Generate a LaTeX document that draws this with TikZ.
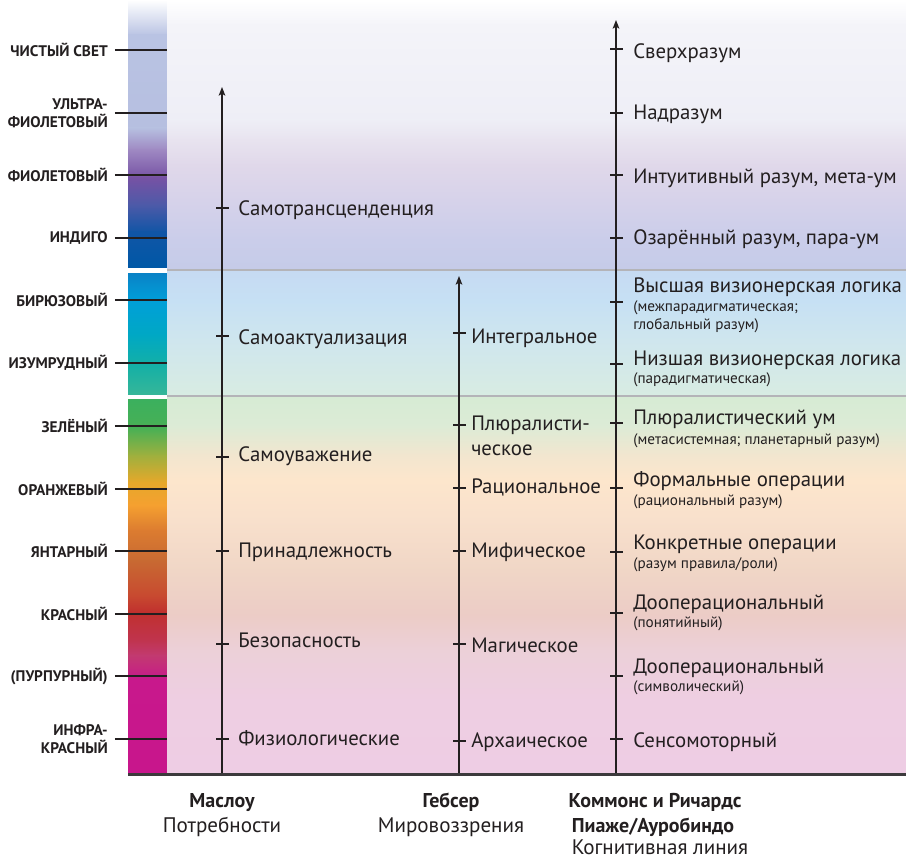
\documentclass[tikz,border=0pt]{standalone}
\usepackage{fontspec}
\setmainfont{PT Sans}
\usetikzlibrary{arrows.meta}
\definecolor{ink}{HTML}{231F20}
\definecolor{sepgray}{HTML}{B4B4B8}
\definecolor{baseln}{HTML}{3C3A3C}
% bar colours
\definecolor{ba1}{HTML}{B9C3E3}
\definecolor{ba2}{HTML}{B6BFE0}
\definecolor{ba3}{HTML}{9E88C2}
\definecolor{ba4}{HTML}{7652A4}
\definecolor{ba5}{HTML}{4C5AA8}
\definecolor{ba6}{HTML}{1055A6}
\definecolor{ba7}{HTML}{0058A6}
\definecolor{bb1}{HTML}{0A82C6}
\definecolor{bb2}{HTML}{009FD9}
\definecolor{bb3}{HTML}{00A8C4}
\definecolor{bb4}{HTML}{14B0A6}
\definecolor{bb5}{HTML}{35B699}
\definecolor{bc1}{HTML}{3BB05E}
\definecolor{bc2}{HTML}{48B055}
\definecolor{bc3}{HTML}{9EB03E}
\definecolor{bc4}{HTML}{E6A82A}
\definecolor{bc5}{HTML}{F5A030}
\definecolor{bc6}{HTML}{DC7C30}
\definecolor{bc7}{HTML}{C86A32}
\definecolor{bc8}{HTML}{C84A30}
\definecolor{bc9}{HTML}{C0302E}
\definecolor{bc10}{HTML}{C0344E}
\definecolor{bc11}{HTML}{C23A70}
\definecolor{bc12}{HTML}{C8188C}
\definecolor{bc13}{HTML}{C8168C}
% panel colours
\definecolor{pa1}{HTML}{F4F4F9}
\definecolor{pa2}{HTML}{EEEEF6}
\definecolor{pa3}{HTML}{E8E3EF}
\definecolor{pa4}{HTML}{E0D8EA}
\definecolor{pa5}{HTML}{D6D2EA}
\definecolor{pa6}{HTML}{CACDEA}
\definecolor{pa7}{HTML}{C5CBE8}
\definecolor{pb1}{HTML}{C6DAF2}
\definecolor{pb2}{HTML}{C6E0F4}
\definecolor{pb3}{HTML}{CFE6EE}
\definecolor{pb4}{HTML}{D8ECE2}
\definecolor{pc1}{HTML}{D6EBD4}
\definecolor{pc2}{HTML}{DCEBD6}
\definecolor{pc3}{HTML}{F2E6CF}
\definecolor{pc4}{HTML}{FDE6CC}
\definecolor{pc5}{HTML}{F8E0CC}
\definecolor{pc6}{HTML}{F0D6C6}
\definecolor{pc7}{HTML}{ECCCC6}
\definecolor{pc8}{HTML}{ECD0D8}
\definecolor{pc9}{HTML}{EECEE2}
\definecolor{pc10}{HTML}{EECDE4}
\newcommand\bandseg[6]{\shade[top color=#5,bottom color=#6] (#1,#3) rectangle (#2,#4+0.6);}
\begin{document}
\begin{tikzpicture}[x=0.75pt,y=-0.75pt,
  mainlab/.style={anchor=mid west,inner sep=0pt,yshift=-1.5pt,font=\fontsize{15.6}{17}\selectfont,text=ink},
  sublab/.style={anchor=mid west,inner sep=0pt,yshift=-1pt,font=\fontsize{11.4}{13}\selectfont,text=ink,align=left},
  bandlab/.style={anchor=east,inner sep=0pt,font=\bfseries\fontsize{11.5}{13.5}\selectfont,text=ink,align=right},
  headb/.style={anchor=mid,inner sep=0pt,yshift=-1.5pt,font=\bfseries\fontsize{15}{17}\selectfont,text=ink},
  headn/.style={anchor=mid,inner sep=0pt,yshift=-1.5pt,font=\fontsize{15.8}{17}\selectfont,text=ink},
  axisline/.style={draw=ink,line width=1pt,-{Stealth[length=6.5pt,width=5pt,inset=1.5pt]}},
  tk/.style={draw=ink,line width=0.9pt},
  bandtk/.style={draw=ink,line width=1.1pt}]
\useasboundingbox (0,0) rectangle (906,859);
\fill[white] (0,0) rectangle (906,859);
% ---- colour bar ----
\bandseg{128}{167.5}{0}{35}{white}{ba1}
\bandseg{128}{167.5}{35}{128}{ba1}{ba2}
\bandseg{128}{167.5}{128}{150}{ba2}{ba3}
\bandseg{128}{167.5}{150}{178}{ba3}{ba4}
\bandseg{128}{167.5}{178}{205}{ba4}{ba5}
\bandseg{128}{167.5}{205}{232}{ba5}{ba6}
\shade[top color=ba6,bottom color=ba7] (128,232) rectangle (167.5,268);
\bandseg{128}{167.5}{273}{300}{bb1}{bb2}
\bandseg{128}{167.5}{300}{335}{bb2}{bb3}
\bandseg{128}{167.5}{335}{365}{bb3}{bb4}
\shade[top color=bb4,bottom color=bb5] (128,365) rectangle (167.5,394);
\bandseg{128}{167.5}{399}{428}{bc1}{bc2}
\bandseg{128}{167.5}{428}{455}{bc2}{bc3}
\bandseg{128}{167.5}{455}{482}{bc3}{bc4}
\bandseg{128}{167.5}{482}{505}{bc4}{bc5}
\bandseg{128}{167.5}{505}{530}{bc5}{bc6}
\bandseg{128}{167.5}{530}{560}{bc6}{bc7}
\bandseg{128}{167.5}{560}{595}{bc7}{bc8}
\bandseg{128}{167.5}{595}{612}{bc8}{bc9}
\bandseg{128}{167.5}{612}{640}{bc9}{bc10}
\bandseg{128}{167.5}{640}{655}{bc10}{bc11}
\bandseg{128}{167.5}{655}{680}{bc11}{bc12}
\shade[top color=bc12,bottom color=bc13] (128,680) rectangle (167.5,773);
% ---- background panel ----
\bandseg{167}{906}{0}{25}{white}{pa1}
\bandseg{167}{906}{25}{120}{pa1}{pa2}
\bandseg{167}{906}{120}{140}{pa2}{pa3}
\bandseg{167}{906}{140}{165}{pa3}{pa4}
\bandseg{167}{906}{165}{200}{pa4}{pa5}
\bandseg{167}{906}{200}{240}{pa5}{pa6}
\bandseg{167}{906}{240}{270}{pa6}{pa7}
\bandseg{167}{906}{270}{300}{pb1}{pb2}
\bandseg{167}{906}{300}{340}{pb2}{pb3}
\bandseg{167}{906}{340}{396}{pb3}{pb4}
\bandseg{167}{906}{396}{425}{pc1}{pc2}
\bandseg{167}{906}{425}{455}{pc2}{pc3}
\bandseg{167}{906}{455}{480}{pc3}{pc4}
\bandseg{167}{906}{480}{520}{pc4}{pc5}
\bandseg{167}{906}{520}{570}{pc5}{pc6}
\bandseg{167}{906}{570}{615}{pc6}{pc7}
\bandseg{167}{906}{615}{650}{pc7}{pc8}
\bandseg{167}{906}{650}{700}{pc8}{pc9}
\shade[top color=pc9,bottom color=pc10] (167,700) rectangle (906,773);
% separators and base line
\coordinate (s1a) at (167,270); \coordinate (s1b) at (906,270);
\coordinate (s2a) at (167,396); \coordinate (s2b) at (906,396);
\draw[sepgray,line width=2.2pt] (s1a) -- (s1b);
\draw[sepgray,line width=2.2pt] (s2a) -- (s2b);
\coordinate (bla) at (128,774.5); \coordinate (blb) at (906,774.5);
\draw[baseln,line width=1.9pt] (bla) -- (blb);
% ---- band labels ----
\foreach \yy/\tt/\nn in {50/{ЧИСТЫЙ СВЕТ}/a, 113/{УЛЬТРА-\\ФИОЛЕТОВЫЙ}/b, 175/{ФИОЛЕТОВЫЙ}/c,
  238/{ИНДИГО}/d, 300/{БИРЮЗОВЫЙ}/e, 363/{ИЗУМРУДНЫЙ}/f, 426/{ЗЕЛЁНЫЙ}/g, 489/{ОРАНЖЕВЫЙ}/h,
  551/{ЯНТАРНЫЙ}/i, 614/{КРАСНЫЙ}/j, 676/{(ПУРПУРНЫЙ)}/k, 739/{ИНФРА-\\КРАСНЫЙ}/l}{
  \node[bandlab] (L\nn) at (108,\yy) {\tt};
  \coordinate (E\nn) at (167,\yy);
  \draw[bandtk] ([xshift=5.2pt]L\nn.east) -- (E\nn);
}
% ---- Maslow ----
\coordinate (M0) at (222,773); \coordinate (M1) at (222,87);
\draw[axisline] (M0) -- (M1);
\foreach \yy/\ly/\tt/\nn in {208/210/{Самотрансценденция}/a, 336/339/{Самоактуализация}/b,
  457/456/{Самоуважение}/c, 551/552/{Принадлежность}/d, 644/642/{Безопасность}/e, 739/740/{Физиологические}/f}{
  \coordinate (Mt\nn) at (222,\yy);
  \draw[tk] ([xshift=-4.5pt]Mt\nn) -- ([xshift=5pt]Mt\nn);
  \node[mainlab] (Ml\nn) at (238,\ly) {\tt};
}
% ---- Gebser ----
\coordinate (G0) at (459,773); \coordinate (G1) at (459,276);
\draw[axisline] (G0) -- (G1);
\foreach \yy/\ly/\tt/\nn in {333/338/{Интегральное}/a, 425/425/{Плюралисти-}/b,
  488/488/{Рациональное}/c, 551/552/{Мифическое}/d, 644/647/{Магическое}/e, 741/742/{Архаическое}/f}{
  \coordinate (Gt\nn) at (459,\yy);
  \draw[tk] ([xshift=-4.5pt]Gt\nn) -- ([xshift=5pt]Gt\nn);
  \node[mainlab] (Gl\nn) at (471,\ly) {\tt};
}
\node[mainlab] (Glb2) at (471,450) {ческое};
% ---- Commons / Piaget / Aurobindo ----
\coordinate (C0) at (616,773); \coordinate (C1) at (616,20);
\draw[axisline] (C0) -- (C1);
\foreach \yy/\ly/\tt/\nn in {49/53/{Сверхразум}/a, 113/114/{Надразум}/b,
  175/178/{Интуитивный разум, мета-ум}/c, 238/239/{Озарённый разум, пара-ум}/d,
  302/287/{Высшая визионерская логика}/e, 364/360/{Низшая визионерская логика}/f,
  423/419/{Плюралистический ум}/g, 488/481/{Формальные операции}/h,
  552/544/{Конкретные операции}/i, 613/604/{Дооперациональный}/j,
  676/668/{Дооперациональный}/k, 739/742/{Сенсомоторный}/l}{
  \coordinate (Ct\nn) at (616,\yy);
  \draw[tk] ([xshift=-4.5pt]Ct\nn) -- ([xshift=5pt]Ct\nn);
  \node[mainlab] (Cl\nn) at (633,\ly) {\tt};
}
\node[sublab] (Cse1) at (633,307) {(межпарадигматическая;};
\node[sublab] (Cse2) at (633,325) {глобальный разум)};
\node[sublab] (Csf) at (633,379) {(парадигматическая)};
\node[sublab] (Csg) at (633,440) {(метасистемная; планетарный разум)};
\node[sublab] (Csh) at (633,501) {(рациональный разум)};
\node[sublab] (Csi) at (633,564) {(разум правила/роли)};
\node[sublab] (Csj) at (633,623) {(понятийный)};
\node[sublab] (Csk) at (633,687) {(символический)};
% ---- column headings ----
\node[headb] (hm1) at (222,802) {Маслоу};
\node[headn] (hm2) at (222,827) {Потребности};
\node[headb] (hg1) at (451,802) {Гебсер};
\node[headn] (hg2) at (451,827) {Мировоззрения};
\node[headb] (hc1) at (655,802) {Коммонс и Ричардс};
\node[headb] (hc2) at (653,827) {Пиаже/Ауробиндо};
\node[headn] (hc3) at (660,849) {Когнитивная линия};
\end{tikzpicture}
\end{document}
